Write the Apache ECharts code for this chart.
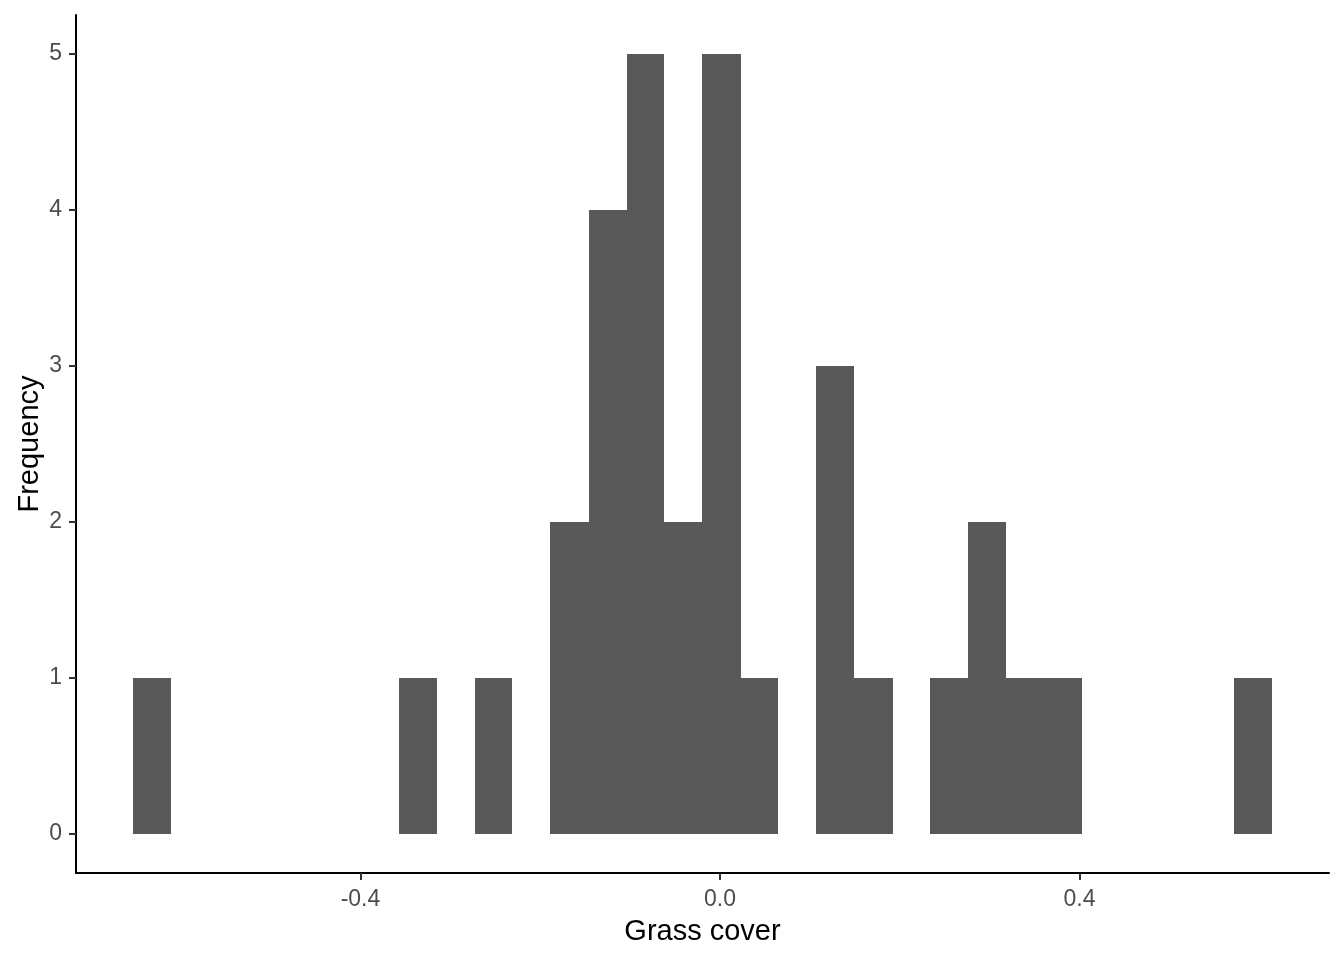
<!DOCTYPE html>
<html>
<head>
<meta charset="utf-8">
<script src="https://cdn.jsdelivr.net/npm/echarts@6/dist/echarts.min.js"></script>
<style>
  html, body { margin: 0; padding: 0; background: #fff; }
  #chart { width: 1344px; height: 960px; }
</style>
</head>
<body>
<div id="chart"></div>
<script>
// histogram bins (30 bins)
var binLeft = [-0.653, -0.611, -0.569, -0.526, -0.484, -0.442, -0.400, -0.357, -0.315, -0.273,
               -0.231, -0.189, -0.146, -0.104, -0.062, -0.020, 0.023, 0.065, 0.107, 0.149,
               0.192, 0.234, 0.276, 0.318, 0.361, 0.403, 0.445, 0.487, 0.530, 0.572];
var binRight = [-0.611, -0.569, -0.526, -0.484, -0.442, -0.400, -0.357, -0.315, -0.273, -0.231,
                -0.189, -0.146, -0.104, -0.062, -0.020, 0.023, 0.065, 0.107, 0.149, 0.192,
                0.234, 0.276, 0.318, 0.361, 0.403, 0.445, 0.487, 0.530, 0.572, 0.614];
var counts = [1, 0, 0, 0, 0, 0, 0, 1, 0, 1,
              0, 2, 4, 5, 2, 5, 1, 0, 3, 1,
              0, 1, 2, 1, 1, 0, 0, 0, 0, 1];
var xTicks = [-0.4, 0, 0.4];
var yTicks = [0, 1, 2, 3, 4, 5];

var histData = [];
for (var i = 0; i < counts.length; i++) {
  if (counts[i] > 0) histData.push([binLeft[i], binRight[i], counts[i]]);
}

var chart = echarts.init(document.getElementById('chart'));
var option = {
  animation: false,
  backgroundColor: '#ffffff',
  grid: { left: 76, right: 15, top: 15, bottom: 87, containLabel: false },
  xAxis: {
    type: 'value',
    min: -0.7165,
    max: 0.6776,
    name: 'Grass cover',
    nameLocation: 'middle',
    nameGap: 44,
    nameMoveOverlap: false,
    nameTextStyle: { color: '#000', fontSize: 29, fontFamily: 'Liberation Sans' },
    axisLine: { show: true, onZero: false, lineStyle: { color: '#000', width: 2 } },
    axisTick: { show: true, length: 7, lineStyle: { color: '#333', width: 2 }, customValues: xTicks },
    axisLabel: {
      color: '#4d4d4d', fontSize: 23, fontFamily: 'Liberation Sans', margin: 15,
      customValues: xTicks,
      formatter: function (v) { return v.toFixed(1); }
    },
    splitLine: { show: false }
  },
  yAxis: {
    type: 'value',
    min: -0.25,
    max: 5.25,
    name: 'Frequency',
    nameLocation: 'middle',
    nameGap: 32,
    nameMoveOverlap: false,
    nameTextStyle: { color: '#000', fontSize: 29, fontFamily: 'Liberation Sans' },
    axisLine: { show: true, onZero: false, lineStyle: { color: '#000', width: 2 } },
    axisTick: { show: true, length: 7, lineStyle: { color: '#333', width: 2 }, customValues: yTicks },
    axisLabel: {
      color: '#4d4d4d', fontSize: 23, fontFamily: 'Liberation Sans', margin: 14,
      customValues: yTicks
    },
    splitLine: { show: false }
  },
  series: [{
    type: 'custom',
    data: histData,
    encode: { x: [0, 1], y: 2 },
    renderItem: function (params, api) {
      var p0 = api.coord([api.value(0), 0]);
      var p1 = api.coord([api.value(1), api.value(2)]);
      var x0 = Math.round(p0[0]), x1 = Math.round(p1[0]);
      var y0 = Math.round(p0[1]), y1 = Math.round(p1[1]);
      return {
        type: 'rect',
        shape: { x: x0, y: y1, width: x1 - x0, height: y0 - y1 },
        style: { fill: '#595959' }
      };
    }
  }]
};
chart.setOption(option);
</script>
</body>
</html>
